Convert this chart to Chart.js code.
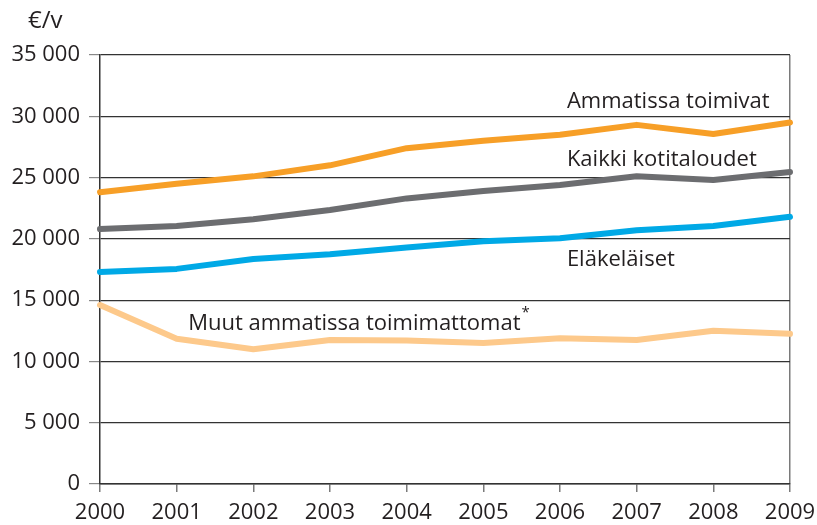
<!DOCTYPE html>
<html>
<head>
<meta charset="utf-8">
<script src="https://cdn.jsdelivr.net/npm/chart.js@4/dist/chart.umd.min.js"></script>
<style>
  html, body { margin: 0; padding: 0; background: #fff; }
  #wrap { width: 817px; height: 525px; }
</style>
</head>
<body>
<div id="wrap"><canvas id="chart"></canvas></div>
<script>
const years = ['2000', '2001', '2002', '2003', '2004', '2005', '2006', '2007', '2008', '2009'];
const ammatissa = [23800, 24500, 25100, 26000, 27400, 28000, 28500, 29300, 28550, 29500];
const kaikki = [20800, 21050, 21600, 22350, 23300, 23900, 24400, 25100, 24800, 25450];
const elakelaiset = [17300, 17550, 18350, 18750, 19300, 19800, 20050, 20700, 21050, 21800];
const muut = [14600, 11850, 11000, 11750, 11700, 11500, 11900, 11750, 12500, 12250];
const yTicks = [0, 5000, 10000, 15000, 20000, 25000, 30000, 35000];

const font = '"Open Sans", "DejaVu Sans", sans-serif';
const textColor = '#231f20';

// series labels, anchored to the scales: [text, x index, y value]
const lineLabels = [
  ['Ammatissa toimivat', 6.09, 31150],
  ['Kaikki kotitaloudet', 6.09, 26450],
  ['Eläkeläiset', 6.09, 18300],
  ['Muut ammatissa toimimattomat', 1.15, 13050]
];

const labelPlugin = {
  id: 'labels',
  afterDatasetsDraw(chart) {
    const ctx = chart.ctx;
    const xs = chart.scales.x, ys = chart.scales.y;
    ctx.save();
    ctx.fillStyle = textColor;
    ctx.font = '22px ' + font;
    ctx.textBaseline = 'middle';
    ctx.textAlign = 'left';
    lineLabels.forEach(([t, xi, yv]) => {
      const x = xs.getPixelForValue(xi);
      const y = ys.getPixelForValue(yv);
      ctx.fillText(t, x, y);
      if (t.startsWith('Muut')) {
        const w = ctx.measureText(t).width;
        ctx.font = '15px ' + font;
        ctx.fillText('*', x + w + 1, y - 11);
        ctx.font = '22px ' + font;
      }
    });
    // unit
    ctx.font = '24px ' + font;
    ctx.fillText('€/v', 28, 21);
    ctx.restore();
  }
};

new Chart(document.getElementById('chart'), {
  type: 'line',
  data: {
    labels: years,
    datasets: [
      { label: 'Muut ammatissa toimimattomat', data: muut, borderColor: '#fdc98b' },
      { label: 'Eläkeläiset', data: elakelaiset, borderColor: '#00a9e6' },
      { label: 'Kaikki kotitaloudet', data: kaikki, borderColor: '#6c6d70' },
      { label: 'Ammatissa toimivat', data: ammatissa, borderColor: '#f79f27' }
    ].map(d => Object.assign(d, {
      borderWidth: 6,
      pointRadius: 0,
      tension: 0,
      fill: false,
      borderCapStyle: 'round',
      borderJoinStyle: 'round',
      clip: false
    }))
  },
  options: {
    responsive: true,
    maintainAspectRatio: false,
    animation: false,
    layout: { padding: { top: 55, right: 27, left: 0, bottom: 0 } },
    plugins: { legend: { display: false }, tooltip: { enabled: false } },
    scales: {
      x: {
        offset: false,
        afterFit(scale) {
          scale.height = 41;
          scale.paddingLeft = 0;
          scale.paddingRight = 0;
        },
        grid: {
          drawOnChartArea: true,
          color: c => (c.index === years.length - 1 ? '#7a7a7a' : 'rgba(0,0,0,0)'),
          tickColor: '#7a7a7a',
          tickLength: 8,
          lineWidth: 1.5
        },
        border: { display: true, color: '#333', width: 1.5 },
        ticks: { color: textColor, font: { family: font, size: 22 }, padding: 8, maxRotation: 0 }
      },
      y: {
        min: 0,
        max: 35000,
        afterFit(scale) { scale.width = 100; },
        afterBuildTicks(scale) { scale.ticks = yTicks.map(v => ({ value: v })); },
        grid: {
          color: '#333',
          tickColor: '#888',
          tickLength: 11,
          lineWidth: 1.2
        },
        border: { display: true, color: '#333', width: 1.5 },
        ticks: {
          color: textColor,
          font: { family: font, size: 22 },
          padding: 9,
          callback: v => String(v).replace(/\B(?=(\d{3})+(?!\d))/g, ' ')
        }
      }
    }
  },
  plugins: [labelPlugin]
});
</script>
</body>
</html>
